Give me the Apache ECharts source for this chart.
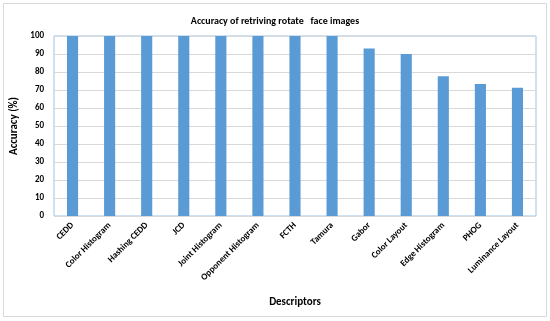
<!DOCTYPE html>
<html><head><meta charset="utf-8">
<script src="https://cdn.jsdelivr.net/npm/echarts@6/dist/echarts.min.js"></script>
<style>html,body{margin:0;padding:0;background:#fff}#c{width:550px;height:321px}</style>
</head><body><div id="c"></div>
<script>
const categories = ["CEDD","Color Histogram","Hashing CEDD","JCD","Joint Histogram","Opponent Histogram","FCTH","Tamura","Gabor","Color Layout","Edge Histogram","PHOG","Luminance Layout"];
const accuracy = [100,100,100,100,100,100,100,100,93,90,77.7,73.4,71.2];
const yTicks = [0,10,20,30,40,50,60,70,80,90,100];

const chart = echarts.init(document.getElementById('c'));
const font = 'Calibri, Carlito, "Liberation Sans", "Open Sans", sans-serif';
chart.setOption({
  animation:false,
  backgroundColor:'#fff',
  graphic:[{type:'rect',shape:{x:3.5,y:3.5,width:543,height:313},style:{fill:null,stroke:'#d9d9d9',lineWidth:1}}],
  title:{text:'Accuracy of retriving rotate   face images',left:'center',top:11,
    textStyle:{fontFamily:font,fontSize:10,fontWeight:'bold',color:'#000'}},
  grid:{left:54,right:14,top:36,bottom:105,show:true,borderColor:'#9dc3e6',borderWidth:1},
  xAxis:{type:'category',data:categories,name:'Descriptors',nameLocation:'middle',nameGap:81,
    nameTextStyle:{fontFamily:font,fontSize:11,fontWeight:'bold',color:'#000'},
    axisLine:{show:false},axisTick:{show:false},
    axisLabel:{rotate:45,interval:0,fontFamily:font,fontSize:9,fontWeight:'bold',color:'#000',margin:8}},
  yAxis:{type:'value',min:0,max:100,interval:10,name:'Accuracy (%)',nameLocation:'middle',nameGap:32,
    nameTextStyle:{fontFamily:font,fontSize:11,fontWeight:'bold',color:'#000'},
    axisLine:{show:false},axisTick:{show:false},
    axisLabel:{fontFamily:font,fontSize:9,fontWeight:'bold',color:'#000',margin:10,
      formatter:v=>yTicks.includes(v)?String(v):''},
    splitLine:{lineStyle:{color:'#d9d9d9',width:1}}},
  series:[{type:'bar',data:accuracy,barWidth:'30%',itemStyle:{color:'#5b9bd5'}}]
});
</script></body></html>
